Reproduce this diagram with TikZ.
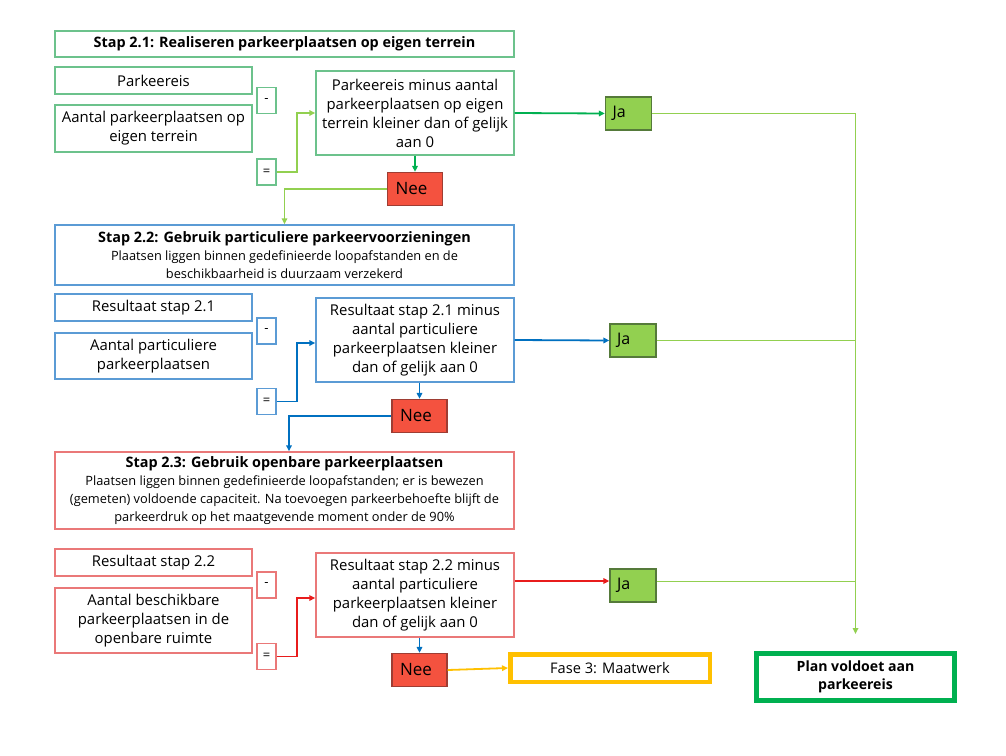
\documentclass[tikz,border=0pt]{standalone}
\usepackage{fontspec}
\setmainfont{Open Sans}
\usetikzlibrary{arrows.meta}
\definecolor{gbord}{HTML}{6CC28C}
\definecolor{bbord}{HTML}{5B9BD5}
\definecolor{rbord}{HTML}{EA7878}
\definecolor{dgreen}{HTML}{00B050}
\definecolor{lgreen}{HTML}{92D050}
\definecolor{barrow}{HTML}{0070C0}
\definecolor{rarrow}{HTML}{E81C1C}
\definecolor{yel}{HTML}{FFC000}
\definecolor{jafill}{HTML}{92D050}
\definecolor{jadraw}{HTML}{557A3A}
\definecolor{neefill}{HTML}{F4523F}
\definecolor{needraw}{HTML}{9E3D33}
\tikzset{
  x=1pt, y=-1pt,
  box/.style={rectangle, draw, line width=1.4pt, inner sep=0pt, align=center, fill=white,
    font=\fontsize{14.9}{19}\selectfont},
  gbox/.style={box, draw=gbord},
  bbox/.style={box, draw=bbord},
  rbox/.style={box, draw=rbord},
  opbox/.style={minimum width=19pt, minimum height=26pt, font=\fontsize{13}{14}\selectfont},
  jabox/.style={rectangle, draw=jadraw, fill=jafill, line width=1.3pt, minimum width=46pt, minimum height=33pt,
    inner xsep=7pt, text width=32pt, align=left, font=\fontsize{16}{19}\selectfont},
  neebox/.style={rectangle, draw=needraw, fill=neefill, line width=1.3pt, minimum width=55pt, minimum height=33pt,
    inner xsep=8pt, text width=39pt, align=left, font=\fontsize{17}{20}\selectfont},
  title/.style={font=\fontsize{14.4}{17}\selectfont\bfseries},
  arr/.style={line width=1.8pt, -{Triangle[length=6pt,width=5.5pt]}},
  ln/.style={line width=1.8pt},
}
\begin{document}
\begin{tikzpicture}
\useasboundingbox (0,0) rectangle (1006,755);

% ---------- Stap 2.1 ----------
\node[gbox, minimum width=459pt, minimum height=26pt, title] (h1) at (284.5,44) {Stap 2.1: Realiseren parkeerplaatsen op eigen terrein};
\node[gbox, minimum width=197pt, minimum height=27pt] (a1) at (153.5,80.5) {Parkeereis};
\node[gbox, minimum width=197pt, minimum height=47pt] (b1) at (153.5,128.5) {Aantal parkeerplaatsen op\\eigen terrein};
\node[gbox, opbox] (m1) at (266.5,100.5) {-};
\node[gbox, opbox] (e1) at (266.5,172) {=};
\node[gbox, minimum width=198pt, minimum height=84pt] (c1) at (415,113) {Parkeereis minus aantal\\parkeerplaatsen op eigen\\terrein kleiner dan of gelijk\\aan 0};
\node[neebox] (n1) at (415,189) {Nee};
\node[jabox] (j1) at (628.5,113.5) {Ja};

% ---------- Stap 2.2 ----------
\node[bbox, minimum width=459pt, minimum height=60pt] (h2) at (284.5,255)
  {{\fontsize{14.4}{17}\selectfont\bfseries Stap 2.2: Gebruik particuliere parkeervoorzieningen}\\[-1pt]
   {\fontsize{12.8}{17}\selectfont Plaatsen liggen binnen gedefinieerde loopafstanden en de}\\[-1pt]
   {\fontsize{12.8}{17}\selectfont beschikbaarheid is duurzaam verzekerd}};
\node[bbox, minimum width=197pt, minimum height=27pt] (a2) at (153.5,307.5) {Resultaat stap 2.1};
\node[bbox, minimum width=197pt, minimum height=46pt] (b2) at (153.5,356) {Aantal particuliere\\parkeerplaatsen};
\node[bbox, opbox] (m2) at (266.5,331) {-};
\node[bbox, opbox] (e2) at (266.5,401.5) {=};
\node[bbox, minimum width=198pt, minimum height=84pt] (c2) at (415,340) {Resultaat stap 2.1 minus\\aantal particuliere\\parkeerplaatsen kleiner\\dan of gelijk aan 0};
\node[neebox] (n2) at (419.5,416) {Nee};
\node[jabox] (j2) at (633,340.5) {Ja};

% ---------- Stap 2.3 ----------
\node[rbox, minimum width=459pt, minimum height=77pt] (h3) at (284.5,490.5)
  {{\fontsize{14.4}{17}\selectfont\bfseries Stap 2.3: Gebruik openbare parkeerplaatsen}\\[-1pt]
   {\fontsize{12.8}{17}\selectfont Plaatsen liggen binnen gedefinieerde loopafstanden; er is bewezen}\\[-1pt]
   {\fontsize{12.8}{17}\selectfont (gemeten) voldoende capaciteit. Na toevoegen parkeerbehoefte blijft de}\\[-1pt]
   {\fontsize{12.8}{17}\selectfont parkeerdruk op het maatgevende moment onder de 90\%}};
\node[rbox, minimum width=197pt, minimum height=27pt] (a3) at (153.5,562.5) {Resultaat stap 2.2};
\node[rbox, minimum width=197pt, minimum height=65pt] (b3) at (153.5,620.5) {Aantal beschikbare\\parkeerplaatsen in de\\openbare ruimte};
\node[rbox, opbox] (m3) at (266.5,585) {-};
\node[rbox, opbox] (e3) at (266.5,656.5) {=};
\node[rbox, minimum width=198pt, minimum height=84pt] (c3) at (415,595) {Resultaat stap 2.2 minus\\aantal particuliere\\parkeerplaatsen kleiner\\dan of gelijk aan 0};
\node[neebox] (n3) at (419.5,670) {Nee};
\node[jabox] (j3) at (633,585.5) {Ja};

% ---------- Ends ----------
\node[rectangle, draw=yel, line width=4.5pt, fill=white, minimum width=199.5pt, minimum height=27.5pt,
  font=\fontsize{14.6}{17}\selectfont] (f) at (610,668) {Fase 3: Maatwerk};
\node[rectangle, draw=dgreen, line width=5pt, fill=white, minimum width=198pt, minimum height=47pt, align=center,
  font=\fontsize{14.1}{18.5}\selectfont\bfseries] (p) at (855.5,677) {Plan voldoet aan\\parkeereis};

% ---------- Connectors Stap 2.1 ----------
\draw[arr, lgreen] (e1.east) -- ++(20,0) |- (c1.west);
\draw[arr, dgreen] (c1.south) -- (n1.north);
\draw[arr, dgreen] (c1.east) -- (j1.west);
\draw[arr, lgreen] (n1.west) -| (h1.south |- h2.north);

% ---------- Connectors Stap 2.2 ----------
\draw[arr, barrow] (e2.east) -- ++(20,0) |- ([yshift=-3pt]c2.west);
\draw[arr, barrow] (n2.north |- c2.south) -- (n2.north);
\draw[arr, barrow] (c2.east) -- (j2.west);
\draw[arr, barrow] (n2.west) -| ([xshift=4.5pt]h3.north);

% ---------- Connectors Stap 2.3 ----------
\draw[arr, rarrow] (e3.east) -- ++(20,0) |- ([yshift=-3pt]c3.west);
\draw[arr, barrow] (n3.north |- c3.south) -- (n3.north);
\draw[arr, rarrow] ([yshift=14pt]c3.east) -- ([yshift=14pt]c3.east -| j3.west);
\draw[arr, yel] (n3.east) -- (f.west);

% ---------- Ja collector ----------
\draw[arr, lgreen, shorten >=17pt] (j1.east) -| (p.north);
\draw[ln, lgreen] (j2.east) -- (j2.east -| p.north);
\draw[ln, lgreen] ([yshift=4pt]j3.east) -- ([yshift=4pt]j3.east -| p.north);
\end{tikzpicture}
\end{document}
